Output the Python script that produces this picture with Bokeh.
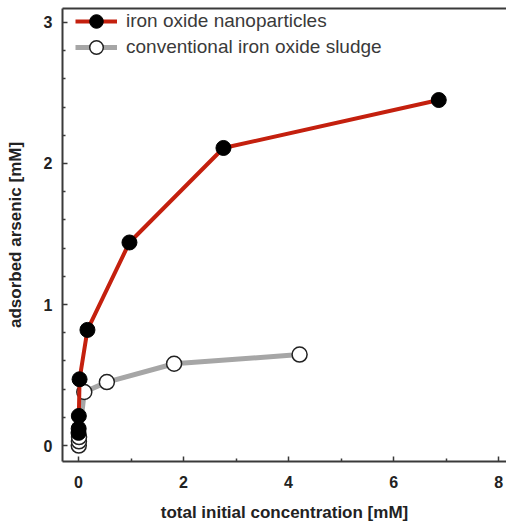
from bokeh.plotting import figure
from bokeh.models import Range1d, LinearAxis, Legend, LegendItem, FixedTicker
from bokeh.embed import file_html
from bokeh.resources import INLINE

# Data
nano_x = [0.0, 0.003, 0.006, 0.02, 0.17, 0.97, 2.76, 6.86]
nano_y = [0.09, 0.12, 0.21, 0.47, 0.82, 1.44, 2.11, 2.45]
sludge_x = [0.005, 0.008, 0.01, 0.11, 0.54, 1.82, 4.21]
sludge_y = [0.0, 0.03, 0.06, 0.38, 0.45, 0.58, 0.645]

x_ticks = [0, 2, 4, 6, 8]
y_ticks = [0, 1, 2, 3]

p = figure(width=506, height=524, output_backend="svg", toolbar_location=None,
           x_range=Range1d(-0.305, 8.15), y_range=Range1d(-0.113, 3.099),
           min_border_left=62, min_border_right=0, min_border_top=8, min_border_bottom=63)
p.grid.visible = False
p.outline_line_color = None
p.background_fill_color = "white"

gray_line = p.line(sludge_x, sludge_y, line_color="#a6a6a6", line_width=5)
gray_pts = p.scatter(sludge_x, sludge_y, size=15, fill_color="white", line_color="#222222", line_width=1.5)
red_line = p.line(nano_x, nano_y, line_color="#c4200e", line_width=4)
red_pts = p.scatter(nano_x, nano_y, size=15, fill_color="black", line_color="black")

font = "Liberation Sans"
for ax in (p.xaxis[0], p.yaxis[0]):
    ax.axis_line_color = "#3a3a3a"
    ax.axis_line_width = 2
    ax.major_tick_line_color = "#3a3a3a"
    ax.minor_tick_line_color = "#3a3a3a"
    ax.major_tick_line_width = 1.5
    ax.minor_tick_line_width = 1.5
    ax.major_tick_out = 0
    ax.major_tick_in = 5
    ax.minor_tick_out = 0
    ax.minor_tick_in = 3
    ax.major_label_text_font = font
    ax.major_label_text_font_style = "bold"
    ax.major_label_text_font_size = "16px"
    ax.major_label_text_color = "#222222"
    ax.axis_label_text_font = font
    ax.axis_label_text_font_style = "bold"
    ax.axis_label_text_font_size = "17px"
    ax.axis_label_text_color = "#222222"

p.xaxis[0].ticker = FixedTicker(ticks=x_ticks, minor_ticks=[1, 3, 5, 7])
p.yaxis[0].ticker = FixedTicker(ticks=y_ticks, minor_ticks=[0.2, 0.4, 0.6, 0.8, 1.2, 1.4, 1.6, 1.8, 2.2, 2.4, 2.6, 2.8])
p.xaxis[0].axis_label = "total initial concentration [mM]"
p.yaxis[0].axis_label = "adsorbed arsenic [mM]"
p.xaxis[0].major_label_standoff = 14
p.yaxis[0].major_label_standoff = 10
p.xaxis[0].axis_label_standoff = 12
p.yaxis[0].axis_label_standoff = 16

top = LinearAxis(ticker=FixedTicker(ticks=[]), axis_line_color="#3a3a3a", axis_line_width=2,
                 major_label_text_font_size="0px", major_tick_line_color=None, minor_tick_line_color=None)
p.add_layout(top, "above")


def make_legend(label, renderers, loc):
    lg = Legend(items=[LegendItem(label=label, renderers=renderers)], location=loc)
    lg.margin = 0
    lg.padding = 0
    lg.spacing = 0
    lg.glyph_width = 42
    lg.glyph_height = 34
    lg.label_standoff = 9
    lg.label_text_font = font
    lg.label_text_font_size = "19px"
    lg.label_text_color = "#3a3a3a"
    lg.border_line_color = None
    lg.background_fill_alpha = 0
    return lg


p.add_layout(make_legend("iron oxide nanoparticles", [red_line, red_pts], (13, 423)))
p.add_layout(make_legend("conventional iron oxide sludge", [gray_line, gray_pts], (13, 397)))

open("out.html", "w").write(file_html(p, INLINE))
